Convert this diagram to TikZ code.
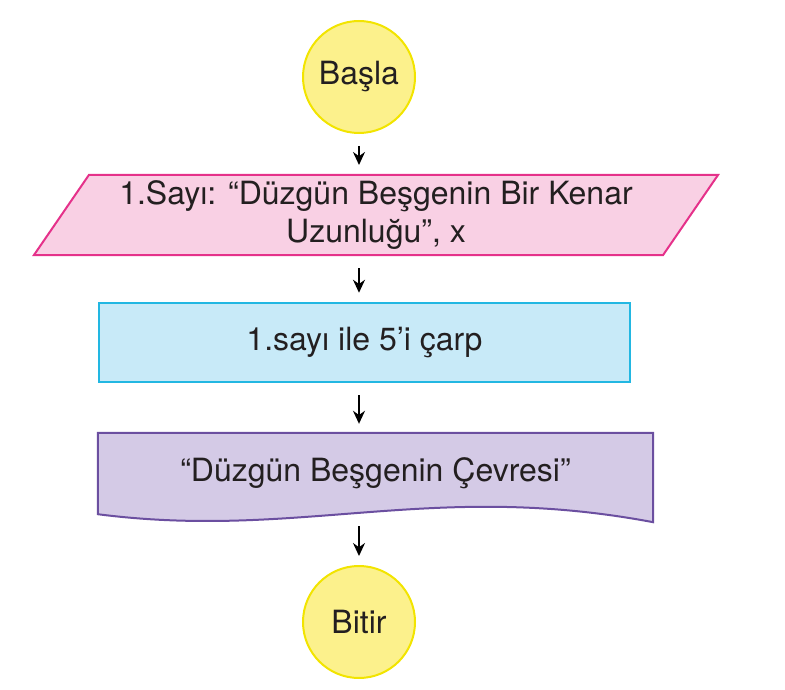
\documentclass[tikz,border=0pt]{standalone}
\usepackage{fontspec}
\setmainfont{TeX Gyre Heros}
\usepackage{xcolor}
\usepackage{tikz}
\usetikzlibrary{positioning,arrows.meta,shapes.geometric,calc,backgrounds}
\definecolor{sunfill}{HTML}{FCF18C}
\definecolor{sunline}{HTML}{F2E400}
\definecolor{pinkfill}{HTML}{F9D0E4}
\definecolor{pinkline}{HTML}{E5318A}
\definecolor{cyanfill}{HTML}{C8EAF8}
\definecolor{cyanline}{HTML}{22B7E2}
\definecolor{lilacfill}{HTML}{D4CAE6}
\definecolor{lilacline}{HTML}{6B4FA0}
\definecolor{inkgray}{HTML}{231F20}

\begin{document}
\begin{tikzpicture}[x=1pt, y=1pt,
  flowtext/.style={font=\fontsize{32}{38}\selectfont, text=inkgray},
  terminal/.style={circle, draw=sunline, fill=sunfill, line width=2pt,
                   minimum size=112pt, inner sep=0pt, flowtext},
  inputbox/.style={trapezium, trapezium left angle=54, trapezium right angle=126,
                   trapezium stretches body, draw=pinkline, fill=pinkfill, line width=2pt,
                   minimum width=684pt, minimum height=80pt, align=center, flowtext},
  process/.style={rectangle, draw=cyanline, fill=cyanfill, line width=2.5pt,
                  minimum width=531pt, minimum height=79pt, flowtext},
  docbox/.style={rectangle, minimum width=555pt, minimum height=81pt, flowtext},
  arrow/.style={-{Stealth[length=13pt,width=12pt]}, line width=1.8pt,
                shorten <=12pt, shorten >=9pt}
]
\useasboundingbox (0,0) rectangle (785,-690);
\node[terminal] (basla) at (359,-77) {Başla};
\node[inputbox] (kenar) at (376,-215) {1.Sayı: “Düzgün Beşgenin Bir Kenar\\Uzunluğu”, x};
\node[process] (carp) at (364.5,-342.5) {1.sayı ile 5’i çarp};
\node[docbox] (cevre) at (375.5,-473.5) {“Düzgün Beşgenin Çevresi”};
\node[terminal] (bitir) at (359,-622) {Bitir};
% wavy document outline behind the output node
\begin{scope}[on background layer]
  \draw[fill=lilacfill, draw=lilacline, line width=2pt]
    (cevre.north west) -- (cevre.north east) -- ($(cevre.south east)+(0,-8)$)
    .. controls ($(cevre.south east)+(-223,34)$) and ($(cevre.south west)+(202,-26)$)
    .. (cevre.south west) -- cycle;
\end{scope}
\draw[arrow] (basla.south) -- (basla.south |- kenar.north);
\draw[arrow] (kenar.south -| basla) -- (carp.north -| basla);
\draw[arrow] (carp.south -| basla) -- (cevre.north -| basla);
\draw[arrow] (bitir |- cevre.south) -- (bitir.north);
\end{tikzpicture}
\end{document}
